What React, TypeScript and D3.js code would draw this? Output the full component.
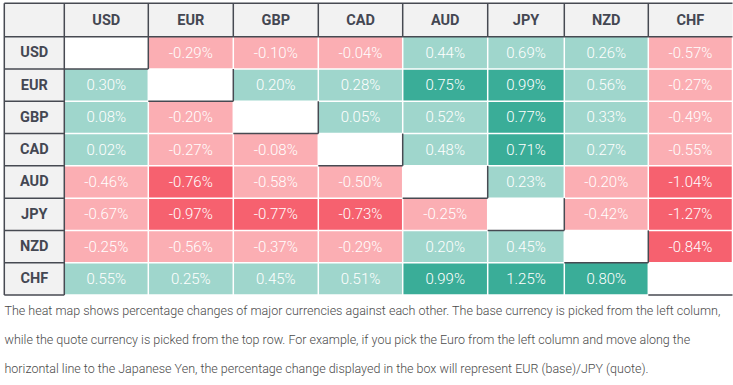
import React from 'react';
import * as d3 from 'd3';

const currencies = ['USD', 'EUR', 'GBP', 'CAD', 'AUD', 'JPY', 'NZD', 'CHF'];

const rowUSD = [null, -0.29, -0.10, -0.04, 0.44, 0.69, 0.26, -0.57];
const rowEUR = [0.30, null, 0.20, 0.28, 0.75, 0.99, 0.56, -0.27];
const rowGBP = [0.08, -0.20, null, 0.05, 0.52, 0.77, 0.33, -0.49];
const rowCAD = [0.02, -0.27, -0.08, null, 0.48, 0.71, 0.27, -0.55];
const rowAUD = [-0.46, -0.76, -0.58, -0.50, null, 0.23, -0.20, -1.04];
const rowJPY = [-0.67, -0.97, -0.77, -0.73, -0.25, null, -0.42, -1.27];
const rowNZD = [-0.25, -0.56, -0.37, -0.29, 0.20, 0.45, null, -0.84];
const rowCHF = [0.55, 0.25, 0.45, 0.51, 0.99, 1.25, 0.80, null];

const matrix: (number | null)[][] = [rowUSD, rowEUR, rowGBP, rowCAD, rowAUD, rowJPY, rowNZD, rowCHF];

const captionLines = [
  'The heat map shows percentage changes of major currencies against each other. The base currency is picked from the left column,',
  'while the quote currency is picked from the top row. For example, if you pick the Euro from the left column and move along the',
  'horizontal line to the Japanese Yen, the percentage change displayed in the box will represent EUR (base)/JPY (quote).',
];

// layout (table auto column widths)
const W = 733;
const H = 385;
const tableLeft = 4.3;
const headColRight = 64.3;
const colLefts = [64.3, 148.3, 233.3, 318.3, 402.7, 487.7, 564.3, 648.3];
const tableRight = 732.5;
const tableTop = 3.3;
const headRowBottom = 36.7;
const tableBottom = 295;

const DARK = '#474a52';
const HEAD_BG = '#f2f2f2';

export default function App() {
  const x = d3.scaleOrdinal<string, number>().domain(currencies).range(colLefts);
  const colWidth = (c: string) => {
    const i = currencies.indexOf(c);
    return (i < currencies.length - 1 ? colLefts[i + 1] : tableRight) - colLefts[i];
  };
  const y = d3.scaleBand<string>().domain(currencies).range([headRowBottom, tableBottom]).padding(0);
  const color = d3
    .scaleThreshold<number, string>()
    .domain([-0.7, 0, 0.7])
    .range(['#f6616f', '#fbaeb3', '#9fd6cc', '#3aad98']);
  const fmt = (v: number) => d3.format('.2f')(v).replace('\u2212', '-') + '%';

  const cells: any[] = [];
  matrix.forEach((row, ri) => {
    row.forEach((v, ci) => {
      cells.push({ r: currencies[ri], c: currencies[ci], v });
    });
  });

  const bh = y.bandwidth();

  return (
    <svg width={W} height={H} style={{ position: 'absolute', left: 0, top: 0 }} fontFamily="Roboto, sans-serif">
      <rect x={0} y={0} width={W} height={H} fill="#fff" />
      <rect x={tableLeft} y={tableTop} width={tableRight - tableLeft} height={headRowBottom - tableTop} fill={HEAD_BG} />
      <rect x={tableLeft} y={headRowBottom} width={headColRight - tableLeft} height={tableBottom - headRowBottom} fill={HEAD_BG} />

      {cells.map((d, i) => (
        <rect
          key={'c' + i}
          x={x(d.c)}
          y={y(d.r)}
          width={colWidth(d.c)}
          height={bh}
          fill={d.v === null ? '#ffffff' : color(d.v)}
        />
      ))}
      {cells
        .filter((d) => d.v !== null)
        .map((d, i) => (
          <g key={'w' + i} stroke="#ffffff" strokeWidth={1.5}>
            <line x1={x(d.c)! + colWidth(d.c)} x2={x(d.c)! + colWidth(d.c)} y1={y(d.r)!} y2={y(d.r)! + bh} />
            <line x1={x(d.c)!} x2={x(d.c)! + colWidth(d.c)} y1={y(d.r)! + bh} y2={y(d.r)! + bh} />
          </g>
        ))}
      {cells
        .filter((d) => d.v === null)
        .map((d, i) => (
          <g key={'e' + i} stroke={DARK} strokeWidth={1.5}>
            {d.c !== currencies[currencies.length - 1] && (
              <line x1={x(d.c)! + colWidth(d.c)} x2={x(d.c)! + colWidth(d.c)} y1={y(d.r)!} y2={y(d.r)! + bh} />
            )}
            <line x1={x(d.c)!} x2={x(d.c)! + colWidth(d.c)} y1={y(d.r)! + bh} y2={y(d.r)! + bh} />
          </g>
        ))}

      <g stroke={DARK} strokeWidth={1.5} fill="none">
        <line x1={tableLeft} x2={tableRight} y1={tableTop} y2={tableTop} />
        <line x1={tableLeft} x2={tableRight} y1={headRowBottom} y2={headRowBottom} />
        <line x1={tableLeft} x2={tableLeft} y1={tableTop} y2={tableBottom} />
        <line x1={headColRight} x2={headColRight} y1={tableTop} y2={tableBottom} />
        {currencies.slice(0, -1).map((c) => (
          <line key={'hv' + c} x1={x(c)! + colWidth(c)} x2={x(c)! + colWidth(c)} y1={tableTop} y2={headRowBottom} />
        ))}
        {currencies.map((c) => (
          <line key={'hh' + c} x1={tableLeft} x2={headColRight} y1={y(c)! + bh} y2={y(c)! + bh} />
        ))}
      </g>

      {currencies.map((c) => (
        <text
          key={'ht' + c}
          x={x(c)! + colWidth(c) / 2}
          y={(tableTop + headRowBottom) / 2}
          textAnchor="middle"
          dominantBaseline="central"
          fontSize={14.5}
          fontWeight={700}
          fill="#444752"
        >
          {c}
        </text>
      ))}
      {currencies.map((c) => (
        <text
          key={'rt' + c}
          x={(tableLeft + headColRight) / 2}
          y={y(c)! + bh / 2}
          textAnchor="middle"
          dominantBaseline="central"
          fontSize={14.5}
          fontWeight={700}
          fill="#444752"
        >
          {c}
        </text>
      ))}

      {cells
        .filter((d) => d.v !== null)
        .map((d, i) => (
          <text
            key={'v' + i}
            x={x(d.c)! + colWidth(d.c) / 2}
            y={y(d.r)! + bh / 2}
            textAnchor="middle"
            dominantBaseline="central"
            fontSize={15}
            fontWeight={300}
            fill="#ffffff"
          >
            {fmt(d.v)}
          </text>
        ))}

      {captionLines.map((t, i) => (
        <text key={'cap' + i} x={4.5} y={315 + i * 29} fontSize={12.5} fontWeight={300} fill="#4a4a4a">
          {t}
        </text>
      ))}
    </svg>
  );
}
